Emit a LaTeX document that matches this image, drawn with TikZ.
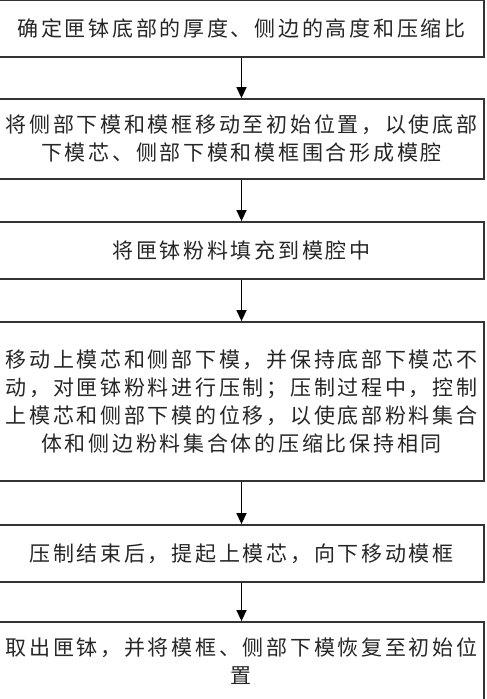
\documentclass[tikz,border=0pt]{standalone}
\usepackage{fontspec}
\newfontfamily\cjk[LetterSpace=13]{Noto Sans CJK SC}
\usetikzlibrary{arrows.meta}
\begin{document}
\begin{tikzpicture}[x=1pt,y=-1pt,line width=1.8pt,
  every node/.style={font=\cjk\fontsize{21pt}{28pt}\selectfont,text=black!85},
  stepbox/.style={draw=black!80,minimum width=485pt,inner sep=0pt,align=center},
  flow/.style={line width=1.5pt,-{Triangle[length=11pt,width=10pt]}}]
% ---- 步骤框（pt，原点=位图左上角，y 向下；左缘在幅面外） ----
\node[stepbox,minimum height=57pt] (s1) at (241.5,28.5) {确定匣钵底部的厚度、侧边的高度和压缩比};
\node[stepbox,minimum height=80pt] (s2) at (241.5,139) {将侧部下模和模框移动至初始位置，以使底部\\下模芯、侧部下模和模框围合形成模腔};
\node[stepbox,minimum height=57pt] (s3) at (241.5,250.5) {将匣钵粉料填充到模腔中};
\node[stepbox,minimum height=159pt] (s4) at (241.5,401.5) {移动上模芯和侧部下模，并保持底部下模芯不\\动，对匣钵粉料进行压制；压制过程中，控制\\上模芯和侧部下模的位移，以使底部粉料集合\\体和侧边粉料集合体的压缩比保持相同};
\node[stepbox,minimum height=57pt] (s5) at (241.5,553.5) {压制结束后，提起上模芯，向下移动模框};
\node[stepbox,minimum height=78pt] (s6) at (241.5,661) {取出匣钵，并将模框、侧部下模恢复至初始位\\置};   % 下缘在幅面外
% ---- 箭头 ----
\draw[flow] (s1) -- (s2);
\draw[flow] (s2) -- (s3);
\draw[flow] (s3) -- (s4);
\draw[flow] (s4) -- (s5);
\draw[flow] (s5) -- (s6);
% ---- 外框＝源位图幅面 487x699 ----
\pgfresetboundingbox
\path[use as bounding box] (0,0) rectangle (487,699);
\end{tikzpicture}
\end{document}
